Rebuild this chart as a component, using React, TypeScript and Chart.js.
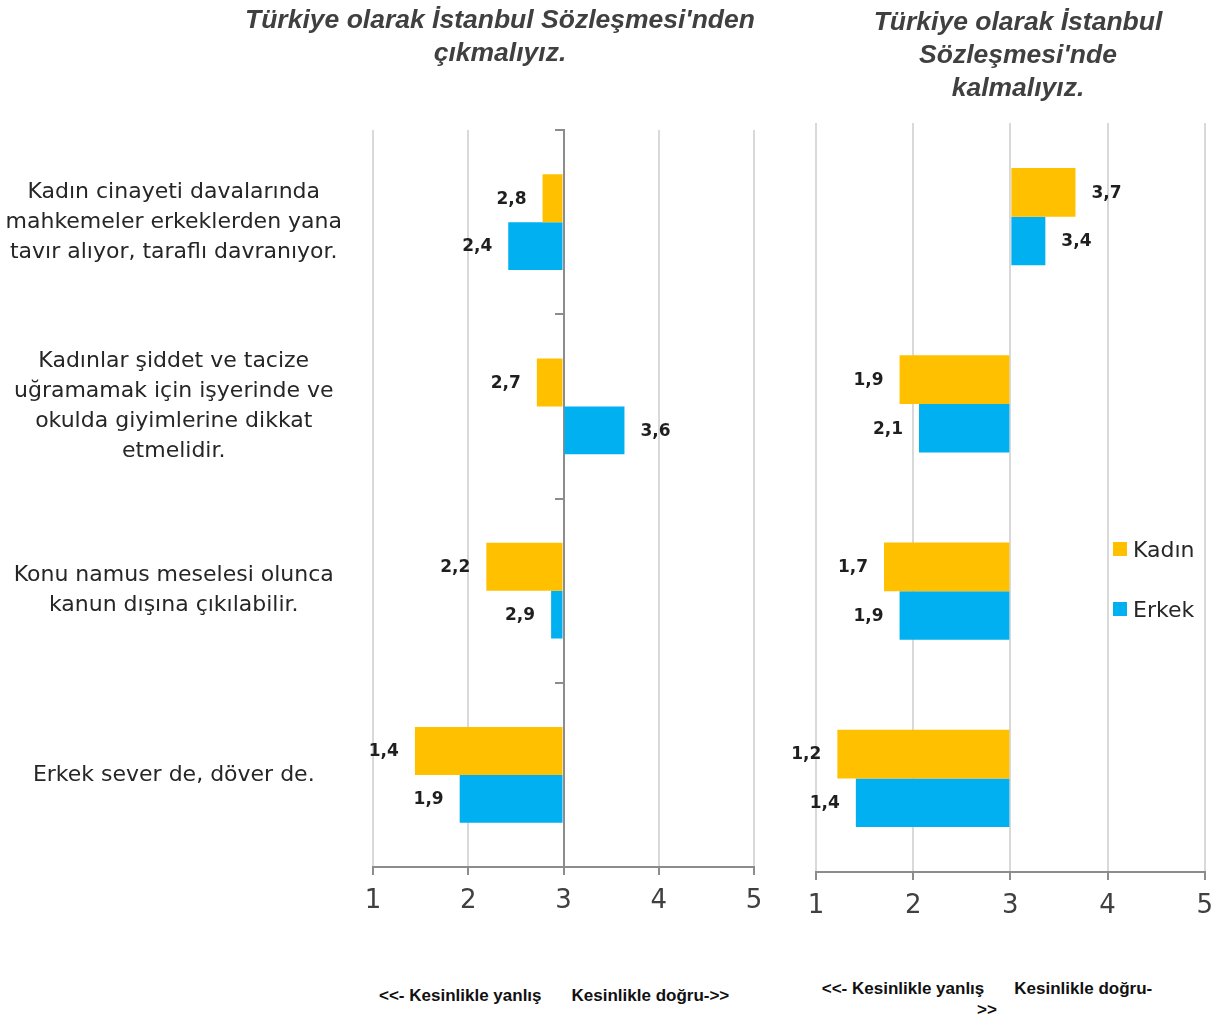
import React, { useEffect, useRef } from "react";
import { Chart, registerables } from "chart.js";

Chart.register(...registerables);

// ---- data ----
const categories: string[][] = [
  ["Kadın cinayeti davalarında", "mahkemeler erkeklerden yana", "tavır alıyor, taraflı davranıyor."],
  ["Kadınlar şiddet ve tacize", "uğramamak için işyerinde ve", "okulda giyimlerine dikkat", "etmelidir."],
  ["Konu namus meselesi olunca", "kanun dışına çıkılabilir."],
  ["Erkek sever de, döver de."],
];
const seriesNames = ["Kadın", "Erkek"];
const leaveKadin = [2.78, 2.72, 2.19, 1.44];
const leaveErkek = [2.42, 3.64, 2.87, 1.91];
const stayKadin = [3.67, 1.86, 1.7, 1.22];
const stayErkek = [3.36, 2.06, 1.86, 1.41];
const leftTitle = ["Türkiye olarak İstanbul Sözleşmesi'nden", "çıkmalıyız."];
const rightTitle = ["Türkiye olarak İstanbul", "Sözleşmesi'nde", "kalmalıyız."];
const scaleMin = 1;
const scaleMax = 5;
const midpoint = 3;
const captionLeft = "<<- Kesinlikle yanlış";
const captionRight = "Kesinlikle doğru->>";

const colors = ["#FFC000", "#00B0F0"];
const GRID = "#D9D9D9";
const AXIS = "#8C8C8C";

const valueLabels = {
  id: "valueLabels",
  afterDatasetsDraw(chart: any) {
    const ctx = chart.ctx;
    ctx.save();
    ctx.font = 'bold 17px "DejaVu Sans"';
    ctx.fillStyle = "#1F1F1F";
    ctx.textBaseline = "middle";
    chart.data.datasets.forEach((ds: any, di: number) => {
      const meta = chart.getDatasetMeta(di);
      meta.data.forEach((el: any, i: number) => {
        const v = ds.data[i] as number;
        const txt = v.toFixed(1).replace(".", ",");
        if (v < midpoint) {
          ctx.textAlign = "right";
          ctx.fillText(txt, el.x - 16, el.y + 1);
        } else {
          ctx.textAlign = "left";
          ctx.fillText(txt, el.x + 16, el.y + 1);
        }
      });
    });
    ctx.restore();
  },
};

function makeConfig(
  kadin: number[],
  erkek: number[],
  opts: { left: boolean; height: number; top: number; bottom: number; padLeft: number; padRight: number; yWidth: number }
): any {
  const scales: any = {
    x: {
      type: "linear",
      min: scaleMin,
      max: scaleMax,
      ticks: {
        stepSize: 1,
        font: { family: "DejaVu Sans", size: 26 },
        color: "#404040",
        padding: 11,
      },
      grid: {
        color: GRID,
        lineWidth: 2,
        tickColor: AXIS,
        tickLength: 8,
        drawTicks: true,
      },
      border: { display: true, color: AXIS, width: 2 },
      afterFit: (s: any) => {
        s.height = opts.height - opts.bottom;
      },
    },
    y: {
      type: "category",
      display: opts.left,
      position: "left",
      grid: { display: false },
      border: { display: false },
      ticks: {
        font: { family: "DejaVu Sans", size: 22, lineHeight: 1.37 },
        color: "#262626",
        crossAlign: "center",
        padding: 23,
      },
      afterFit: (s: any) => {
        s.width = opts.yWidth;
      },
    },
  };
  if (opts.left) {
    scales.y2 = {
      type: "category",
      axis: "y",
      position: { x: midpoint },
      offset: true,
      grid: {
        drawOnChartArea: false,
        drawTicks: true,
        tickLength: 8,
        color: AXIS,
        tickColor: AXIS,
        lineWidth: 2,
        offset: true,
      },
      border: { display: true, color: AXIS, width: 2 },
      ticks: { display: false },
    };
  }
  return {
    type: "bar",
    data: {
      labels: categories,
      datasets: [
        {
          label: seriesNames[0],
          data: kadin,
          base: midpoint,
          backgroundColor: colors[0],
          borderWidth: 0,
          categoryPercentage: 0.52,
          barPercentage: 1,
          yAxisID: "y",
        },
        {
          label: seriesNames[1],
          data: erkek,
          base: midpoint,
          backgroundColor: colors[1],
          borderWidth: 0,
          categoryPercentage: 0.52,
          barPercentage: 1,
          yAxisID: "y",
        },
      ],
    },
    options: {
      indexAxis: "y",
      responsive: false,
      animation: false,
      layout: { padding: { top: opts.top, left: opts.padLeft, right: opts.padRight, bottom: 0 } },
      plugins: { legend: { display: false }, tooltip: { enabled: false }, title: { display: false } },
      scales,
    },
    plugins: [valueLabels],
  };
}

function ChartCanvas({ config, width, height, left }: { config: any; width: number; height: number; left: number }) {
  const ref = useRef<HTMLCanvasElement>(null);
  useEffect(() => {
    if (!ref.current) return;
    const chart = new Chart(ref.current, config);
    return () => chart.destroy();
  }, []);
  return (
    <canvas
      ref={ref}
      width={width}
      height={height}
      style={{ position: "absolute", left, top: 0, width, height, display: "block" }}
    />
  );
}

const titleStyle: React.CSSProperties = {
  position: "absolute",
  textAlign: "center",
  fontFamily: '"Liberation Sans", Arial, sans-serif',
  fontWeight: "bold",
  fontStyle: "italic",
  fontSize: 26.5,
  lineHeight: "33px",
  color: "#404040",
  whiteSpace: "nowrap",
};

const captionStyle: React.CSSProperties = {
  position: "absolute",
  fontFamily: '"Liberation Sans", Arial, sans-serif',
  fontWeight: "bold",
  fontSize: 17,
  lineHeight: "21px",
  color: "#111",
  whiteSpace: "pre",
};

const legendItem = (i: number, top: number) => (
  <div
    key={i}
    style={{ position: "absolute", left: 1113, top, height: 30, display: "flex", alignItems: "center" }}
  >
    <div style={{ width: 14, height: 14, background: colors[i], marginRight: 6 }} />
    <span style={{ fontFamily: '"DejaVu Sans", sans-serif', fontSize: 22, color: "#262626" }}>{seriesNames[i]}</span>
  </div>
);

export default function App() {
  const H = 940;
  const leftCfg = makeConfig(leaveKadin, leaveErkek, {
    left: true,
    height: H,
    top: 130,
    bottom: 867,
    padLeft: 0,
    padRight: 36,
    yWidth: 373,
  });
  const rightCfg = makeConfig(stayKadin, stayErkek, {
    left: false,
    height: H,
    top: 123,
    bottom: 872,
    padLeft: 26,
    padRight: 18,
    yWidth: 0,
  });
  return (
    <div style={{ position: "absolute", left: 0, top: 0, width: 1224, height: 1017, background: "#fff", overflow: "hidden" }}>
      <ChartCanvas config={leftCfg} width={790} height={H} left={0} />
      <ChartCanvas config={rightCfg} width={434} height={H} left={790} />
      <div style={{ ...titleStyle, left: 150, width: 700, top: 3 }}>
        {leftTitle.map((t, i) => (
          <div key={i}>{t}</div>
        ))}
      </div>
      <div style={{ ...titleStyle, left: 818, width: 400, top: 5 }}>
        {rightTitle.map((t, i) => (
          <div key={i}>{t}</div>
        ))}
      </div>
      <div style={{ ...captionStyle, left: 379, top: 985, display: "flex", gap: 30 }}>
        <span>{captionLeft}</span>
        <span>{captionRight}</span>
      </div>
      <div style={{ ...captionStyle, left: 787, width: 400, top: 978, textAlign: "center" }}>
        <div style={{ display: "flex", gap: 30, justifyContent: "center" }}>
          <span>{captionLeft}</span>
          <span>{captionRight.replace(">>", "")}</span>
        </div>
        <div>{">>"}</div>
      </div>
      {legendItem(0, 534)}
      {legendItem(1, 594)}
    </div>
  );
}
